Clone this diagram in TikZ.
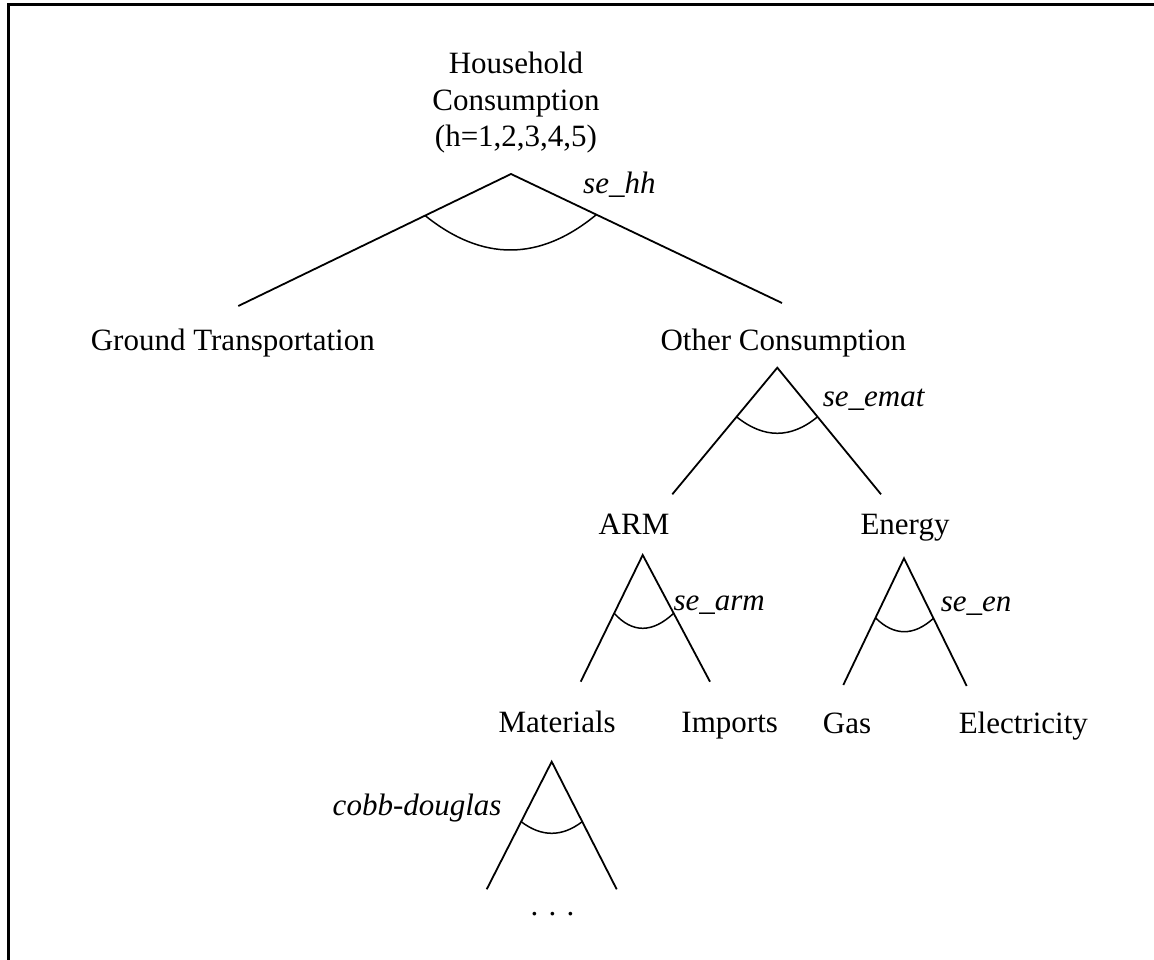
\documentclass[tikz,border=0pt]{standalone}
\usepackage{fontspec}
\setmainfont{Liberation Serif}
\usetikzlibrary{calc}

% Nest arc between the two legs of a branch:
% #1 apex, #2 left end, #3 right end, #4 fraction along legs, #5 depth below apex
\newcommand\nestarc[5]{%
  \coordinate (#1-p) at ($(#1)!#4!(#2)$);
  \coordinate (#1-q) at ($(#1)!#4!(#3)$);
  \coordinate (#1-b) at ($(#1)+(0,#5)$);
  \coordinate (#1-c) at ($2*(#1-b)-0.5*(#1-p)-0.5*(#1-q)$);
  \draw[nest] (#1-p) .. controls ($(#1-p)!2/3!(#1-c)$) and ($(#1-q)!2/3!(#1-c)$) .. (#1-q);
}
% Two legs of a branch from its apex
\newcommand\branch[3]{\draw[leg] (#2) -- (#1) -- (#3);}

\begin{document}
\begin{tikzpicture}[x=1pt,y=-1pt,
  lbl/.style={anchor=base,inner sep=0pt,font=\fontsize{31}{36.5}\selectfont},
  elas/.style={anchor=base west,inner sep=0pt,font=\fontsize{31}{36.5}\selectfont\itshape},
  leg/.style={line width=1.8pt},
  nest/.style={line width=1.5pt}]
\useasboundingbox (0,0) rectangle (1154,960);

% frame
\draw[line width=3pt] (8.2,960) -- (8.2,4.2) -- (1154,4.2);

% labels
\node[lbl,align=center,anchor=center] (household) at (516,103)
  {Household\\Consumption\\(h=1,2,3,4,5)};
\node[lbl] (ground) at (232.8,350) {Ground Transportation};
\node[lbl] (other) at (783.3,350) {Other Consumption};
\node[lbl] (armn) at (634,534) {ARM};
\node[lbl] (energy) at (905,534) {Energy};
\node[lbl] (materials) at (557.2,732.7) {Materials};
\node[lbl] (imports) at (729.7,732.7) {Imports};
\node[lbl] (gas) at (847,733) {Gas};
\node[lbl] (elec) at (1023.3,733) {Electricity};
\node[lbl] (dots) at (552.5,915) {. . .};

% elasticities
\node[elas] (sehh) at (583,194) {se\_hh};
\node[elas] (seemat) at (822.7,406.7) {se\_emat};
\node[elas] (searm) at (673.3,610.7) {se\_arm};
\node[elas] (seen) at (940.7,611.7) {se\_en};
\node[elas,anchor=base east] (cobb) at (501.7,815) {cobb-douglas};

% branch apexes and leg ends
\coordinate (hh) at (511,174);
\coordinate (hh-l) at (238.3,306);
\coordinate (hh-r) at (782,303);
\coordinate (emat) at (777.3,367.7);
\coordinate (emat-l) at (672.3,494.3);
\coordinate (emat-r) at (881,494.3);
\coordinate (arm) at (642.7,555);
\coordinate (arm-l) at (580.7,681.7);
\coordinate (arm-r) at (710,681.7);
\coordinate (en) at (904,558.3);
\coordinate (en-l) at (843.3,685);
\coordinate (en-r) at (966.7,686);
\coordinate (cd) at (551.7,761.7);
\coordinate (cd-l) at (486.7,889.3);
\coordinate (cd-r) at (616.7,889.3);

\branch{hh}{hh-l}{hh-r}
\branch{emat}{emat-l}{emat-r}
\branch{arm}{arm-l}{arm-r}
\branch{en}{en-l}{en-r}
\branch{cd}{cd-l}{cd-r}

\nestarc{hh}{hh-l}{hh-r}{0.315}{76}
\nestarc{emat}{emat-l}{emat-r}{0.388}{65.6}
\nestarc{arm}{arm-l}{arm-r}{0.46}{73.3}
\nestarc{en}{en-l}{en-r}{0.47}{73.4}
\nestarc{cd}{cd-l}{cd-r}{0.47}{71.6}
\end{tikzpicture}
\end{document}
